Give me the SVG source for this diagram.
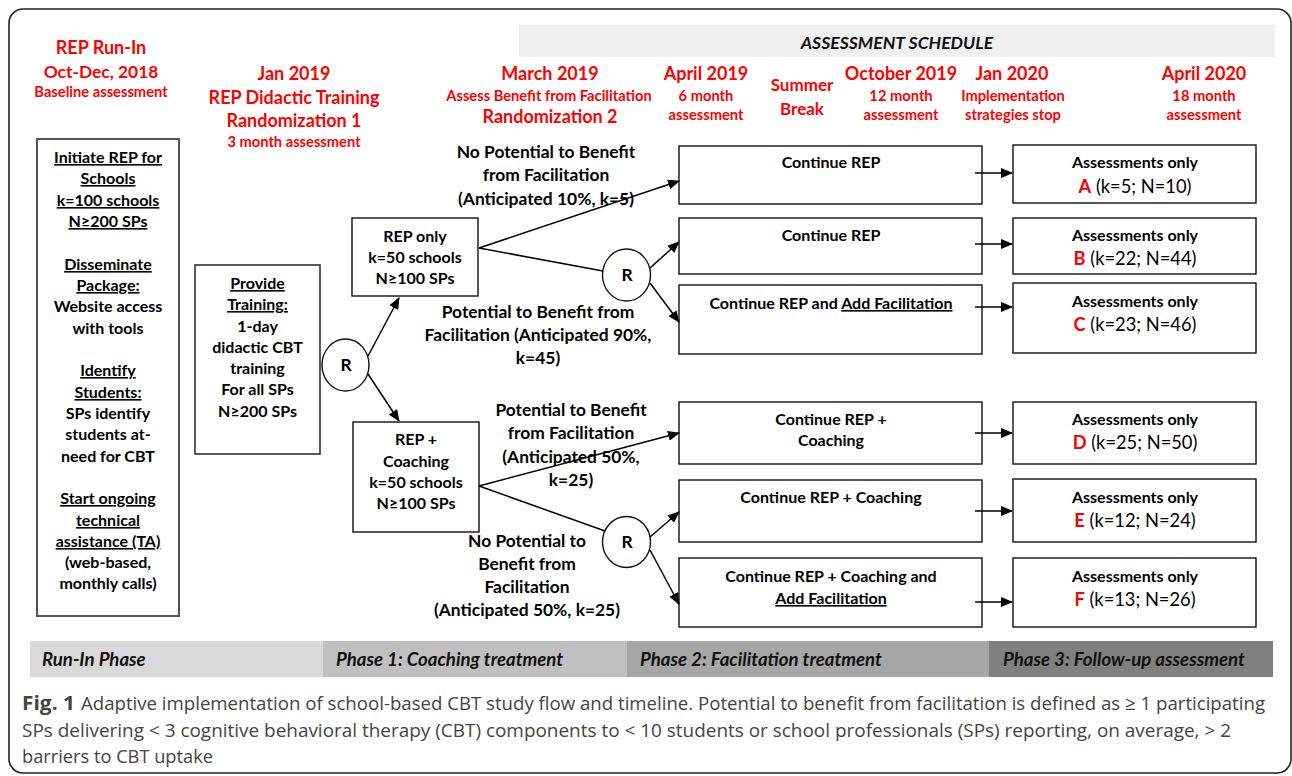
<svg xmlns="http://www.w3.org/2000/svg" width="1292" height="776" viewBox="0 0 1292 776">
<defs>
<style>
.hr{font-family:Lato,"Liberation Sans",sans-serif;font-weight:bold;fill:#ff0000;text-anchor:middle;font-size:18px}
.hs{font-family:Lato,"Liberation Sans",sans-serif;font-weight:bold;fill:#ff0000;text-anchor:middle;font-size:14.7px}
.t{font-family:Lato,"Liberation Sans",sans-serif;font-weight:bold;fill:#000;text-anchor:middle;font-size:16px}
.lb{font-family:Lato,"Liberation Sans",sans-serif;font-weight:bold;fill:#000;text-anchor:middle;font-size:17.4px}
.rv{font-family:Lato,"Liberation Sans",sans-serif;font-weight:normal;fill:#000;font-size:18.3px}
.rl{font-weight:bold;fill:#ff0000}
.u{text-decoration:underline}
.bx{fill:#fff;stroke:#111;stroke-width:1.4}
.gbx{fill:#fff;stroke:#555;stroke-width:2}
.rc{fill:#fff;stroke:#111;stroke-width:1.4}
.ph{font-family:Lato,"Liberation Sans",sans-serif;font-weight:bold;font-style:italic;fill:#111;font-size:18.6px}
.cap{font-family:"Open Sans","Liberation Sans",sans-serif;fill:#444;font-size:19px}
.ln{stroke:#000;stroke-width:1.5;fill:none}
.ar{stroke:#000;stroke-width:1.5;fill:none;marker-end:url(#ah)}
</style>
<marker id="ah" markerUnits="userSpaceOnUse" markerWidth="12" markerHeight="10" refX="11" refY="5" orient="auto">
<path d="M0,0 L12,5 L0,10 z" fill="#000"/>
</marker>
</defs>
<rect x="0" y="0" width="1292" height="776" fill="#fff"/>
<rect x="9" y="9" width="1282" height="764" rx="14" fill="none" stroke="#222" stroke-width="1.6"/>

<g id="schedule-band">
<rect x="519" y="25" width="756" height="32" fill="#f0f0f0"/>
<text x="897" y="49" font-family="Lato,'Liberation Sans',sans-serif" font-weight="bold" font-style="italic" font-size="17.6" text-anchor="middle" fill="#111">ASSESSMENT SCHEDULE</text>
</g>

<g id="headers">
<text class="hr" x="101" y="54">REP Run-In</text>
<text class="hr" x="101" y="78" style="font-size:17.4px">Oct-Dec, 2018</text>
<text class="hs" x="101" y="97">Baseline assessment</text>
<text class="hr" x="294" y="80">Jan 2019</text>
<text class="hr" x="294" y="104">REP Didactic Training</text>
<text class="hr" x="294" y="127">Randomization 1</text>
<text class="hs" x="294" y="147">3 month assessment</text>
<text class="hr" x="550" y="80">March 2019</text>
<text class="hs" x="549" y="101">Assess Benefit from Facilitation</text>
<text class="hr" x="550" y="123">Randomization 2</text>
<text class="hr" x="706" y="80">April 2019</text>
<text class="hs" x="706" y="101">6 month</text>
<text class="hs" x="706" y="120">assessment</text>
<text class="hr" x="802" y="91" style="font-size:17px">Summer</text>
<text class="hr" x="802" y="115" style="font-size:17px">Break</text>
<text class="hr" x="901" y="80">October 2019</text>
<text class="hs" x="901" y="101">12 month</text>
<text class="hs" x="901" y="120">assessment</text>
<text class="hr" x="1012" y="80">Jan 2020</text>
<text class="hs" x="1013" y="101">Implementation</text>
<text class="hs" x="1013" y="120">strategies stop</text>
<text class="hr" x="1204" y="80">April 2020</text>
<text class="hs" x="1204" y="101">18 month</text>
<text class="hs" x="1204" y="120">assessment</text>
</g>

<g id="runin">
<rect class="gbx" x="37" y="139" width="142" height="477"/>
<text class="t u" x="108" y="163">Initiate REP for</text>
<text class="t u" x="108" y="184">Schools</text>
<text class="t u" x="108" y="206">k=100 schools</text>
<text class="t u" x="108" y="227">N≥200 SPs</text>
<text class="t u" x="108" y="270">Disseminate</text>
<text class="t u" x="108" y="291">Package:</text>
<text class="t" x="108" y="312">Website access</text>
<text class="t" x="108" y="334">with tools</text>
<text class="t u" x="108" y="376">Identify</text>
<text class="t u" x="108" y="398">Students:</text>
<text class="t" x="108" y="419">SPs identify</text>
<text class="t" x="108" y="440">students at-</text>
<text class="t" x="108" y="462">need for CBT</text>
<text class="t u" x="108" y="504">Start ongoing</text>
<text class="t u" x="108" y="526">technical</text>
<text class="t u" x="108" y="547">assistance (TA)</text>
<text class="t" x="108" y="568">(web-based,</text>
<text class="t" x="108" y="589">monthly calls)</text>
</g>

<g id="training">
<rect class="gbx" x="195" y="265" width="125" height="189" style="stroke:#333;stroke-width:1.6"/>
<text class="t u" x="257.5" y="289">Provide</text>
<text class="t u" x="257.5" y="310">Training:</text>
<text class="t" x="257.5" y="332">1-day</text>
<text class="t" x="257.5" y="353">didactic CBT</text>
<text class="t" x="257.5" y="374">training</text>
<text class="t" x="257.5" y="395">For all SPs</text>
<text class="t" x="257.5" y="417">N≥200 SPs</text>
</g>

<g id="r1"><ellipse class="rc" cx="345.5" cy="365" rx="23.5" ry="26"/><text class="lb" x="346" y="371">R</text></g>

<g id="rep-only">
<rect class="bx" x="352" y="218" width="126" height="78"/>
<text class="t" x="415" y="242">REP only</text>
<text class="t" x="415" y="263">k=50 schools</text>
<text class="t" x="415" y="284">N≥100 SPs</text>
</g>

<g id="rep-coaching">
<rect class="bx" x="353" y="422" width="126" height="110"/>
<text class="t" x="416" y="445">REP +</text>
<text class="t" x="416" y="467">Coaching</text>
<text class="t" x="416" y="488">k=50 schools</text>
<text class="t" x="416" y="509">N≥100 SPs</text>
</g>

<g id="r2"><ellipse class="rc" cx="626.5" cy="275" rx="24" ry="26"/><text class="lb" x="627" y="281">R</text></g>
<g id="r3"><ellipse class="rc" cx="626.5" cy="542" rx="24" ry="25.5"/><text class="lb" x="627" y="548">R</text></g>

<g id="labels">
<text class="lb" x="546" y="158">No Potential to Benefit</text>
<text class="lb" x="546" y="181">from Facilitation</text>
<text class="lb" x="546" y="205">(Anticipated 10%, k=5)</text>
<text class="lb" x="538" y="318">Potential to Benefit from</text>
<text class="lb" x="538" y="341">Facilitation (Anticipated 90%,</text>
<text class="lb" x="538" y="364">k=45)</text>
<text class="lb" x="571" y="416">Potential to Benefit</text>
<text class="lb" x="571" y="439">from Facilitation</text>
<text class="lb" x="571" y="463">(Anticipated 50%,</text>
<text class="lb" x="571" y="486">k=25)</text>
<text class="lb" x="527" y="547">No Potential to</text>
<text class="lb" x="527" y="570">Benefit from</text>
<text class="lb" x="527" y="593">Facilitation</text>
<text class="lb" x="527" y="616">(Anticipated 50%, k=25)</text>
</g>

<g id="mid-a"><rect class="bx" x="679" y="146" width="303" height="58"/><text class="t" x="831" y="168">Continue REP</text></g>
<g id="mid-b"><rect class="bx" x="679" y="218" width="303" height="56"/><text class="t" x="831" y="241">Continue REP</text></g>
<g id="mid-c"><rect class="bx" x="679" y="285" width="303" height="69"/><text class="t" x="831" y="309">Continue REP and <tspan class="u">Add Facilitation</tspan></text></g>
<g id="mid-d"><rect class="bx" x="679" y="402" width="303" height="62"/><text class="t" x="831" y="425">Continue REP +</text><text class="t" x="831" y="446">Coaching</text></g>
<g id="mid-e"><rect class="bx" x="679" y="480" width="303" height="62"/><text class="t" x="831" y="503">Continue REP + Coaching</text></g>
<g id="mid-f"><rect class="bx" x="679" y="558" width="303" height="69"/><text class="t" x="831" y="582">Continue REP + Coaching and</text><text class="t u" x="831" y="604">Add Facilitation</text></g>

<g id="out-a"><rect class="bx" x="1013" y="145" width="243" height="58"/><text class="t" x="1135" y="168">Assessments only</text><text class="rv" x="1135" y="193" text-anchor="middle"><tspan class="rl">A</tspan> (k=5; N=10)</text></g>
<g id="out-b"><rect class="bx" x="1013" y="218" width="243" height="56"/><text class="t" x="1135" y="241">Assessments only</text><text class="rv" x="1135" y="265" text-anchor="middle"><tspan class="rl">B</tspan> (k=22; N=44)</text></g>
<g id="out-c"><rect class="bx" x="1013" y="283" width="243" height="70"/><text class="t" x="1135" y="307">Assessments only</text><text class="rv" x="1135" y="331" text-anchor="middle"><tspan class="rl">C</tspan> (k=23; N=46)</text></g>
<g id="out-d"><rect class="bx" x="1013" y="402" width="243" height="62"/><text class="t" x="1135" y="425">Assessments only</text><text class="rv" x="1135" y="449" text-anchor="middle"><tspan class="rl">D</tspan> (k=25; N=50)</text></g>
<g id="out-e"><rect class="bx" x="1013" y="479" width="243" height="63"/><text class="t" x="1135" y="503">Assessments only</text><text class="rv" x="1135" y="527" text-anchor="middle"><tspan class="rl">E</tspan> (k=12; N=24)</text></g>
<g id="out-f"><rect class="bx" x="1013" y="558" width="243" height="69"/><text class="t" x="1135" y="582">Assessments only</text><text class="rv" x="1135" y="606" text-anchor="middle"><tspan class="rl">F</tspan> (k=13; N=26)</text></g>

<g id="connectors">
<path class="ar" d="M368,356 L399,298"/>
<path class="ar" d="M368,374 L399,421"/>
<path class="ar" d="M479,248 L679,181"/>
<path class="ln" d="M479,248 L603,271"/>
<path class="ar" d="M650,268 L679,242"/>
<path class="ar" d="M650,283 L679,322"/>
<path class="ar" d="M479,486 L679,433"/>
<path class="ln" d="M479,486 L605,531"/>
<path class="ar" d="M650,537 L679,512"/>
<path class="ar" d="M650,550 L679,604"/>
<path class="ar" d="M975,173 L1012,173"/>
<path class="ar" d="M975,244 L1012,244"/>
<path class="ar" d="M975,307 L1012,307"/>
<path class="ar" d="M975,433 L1012,433"/>
<path class="ar" d="M975,511 L1012,511"/>
<path class="ar" d="M975,602 L1012,602"/>
</g>

<g id="phases">
<rect x="30" y="641" width="293" height="36" fill="#d9d9d9"/>
<rect x="323" y="641" width="304" height="36" fill="#bfbfbf"/>
<rect x="627" y="641" width="362" height="36" fill="#a6a6a6"/>
<rect x="989" y="641" width="284" height="36" fill="#808080"/>
<text class="ph" x="42" y="666">Run-In Phase</text>
<text class="ph" x="336" y="666">Phase 1: Coaching treatment</text>
<text class="ph" x="640" y="666">Phase 2: Facilitation treatment</text>
<text class="ph" x="1003" y="666">Phase 3: Follow-up assessment</text>
</g>

<g id="caption">
<text class="cap" x="22" y="710" font-weight="bold" fill="#231f20" textLength="53" lengthAdjust="spacingAndGlyphs">Fig. 1</text>
<text class="cap" x="81" y="710" textLength="1184" lengthAdjust="spacingAndGlyphs">Adaptive implementation of school-based CBT study flow and timeline. Potential to benefit from facilitation is defined as ≥ 1 participating</text>
<text class="cap" x="22" y="737" textLength="1209" lengthAdjust="spacingAndGlyphs">SPs delivering &lt; 3 cognitive behavioral therapy (CBT) components to &lt; 10 students or school professionals (SPs) reporting, on average, &gt; 2</text>
<text class="cap" x="22" y="763" textLength="191" lengthAdjust="spacingAndGlyphs">barriers to CBT uptake</text>
</g>
</svg>
